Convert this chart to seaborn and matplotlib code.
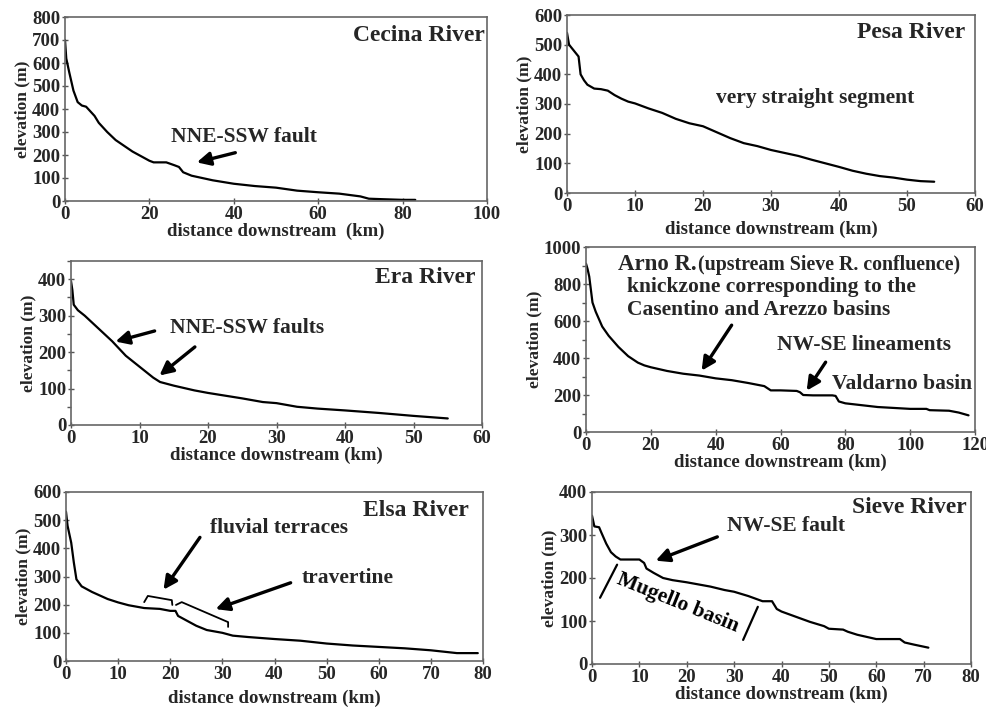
import numpy as np
import pandas as pd
import seaborn as sns
import matplotlib.pyplot as plt
from matplotlib.ticker import MultipleLocator

# ############### River profile data ###############
cecina_km = [0, 0.3, 1, 2, 3, 4, 5, 6, 7, 8, 10, 12, 14, 16, 18, 20, 21, 24, 26, 27, 28, 30,
             35, 40, 45, 50, 55, 60, 65, 70, 72, 75, 80, 83]
cecina_m = [700, 620, 560, 480, 430, 415, 410, 390, 370, 340, 300, 265, 240, 215, 195, 175, 168,
            168, 155, 148, 125, 110, 90, 75, 65, 58, 45, 38, 32, 20, 10, 8, 5, 5]

pesa_km = [0, 0.3, 1, 1.7, 2, 2.5, 3, 4, 5, 6, 7, 8, 9, 10, 12, 14, 16, 18, 20, 22, 24, 26, 28,
           30, 32, 34, 36, 38, 40, 42, 44, 46, 48, 50, 52, 54]
pesa_m = [540, 500, 480, 460, 400, 380, 365, 352, 350, 345, 330, 318, 308, 302, 285, 270, 250,
          235, 225, 205, 185, 168, 158, 145, 135, 125, 112, 100, 88, 75, 65, 57, 52, 45, 40, 38]

era_km = [0, 0.2, 0.4, 1, 2, 4, 6, 8, 10, 12, 13, 15, 18, 20, 25, 28, 30, 33, 36, 40, 45, 50, 55]
era_m = [395, 370, 330, 315, 300, 265, 230, 190, 160, 130, 118, 108, 95, 88, 73, 63, 60, 50, 45,
         40, 33, 25, 18]

arno_km = [0, 0.5, 1, 2, 3, 5, 7, 10, 13, 16, 18, 20, 25, 30, 35, 40, 45, 50, 55, 57, 60, 65, 66,
           67, 70, 76, 77, 78, 80, 85, 90, 95, 100, 105, 106, 112, 115, 118]
arno_m = [910, 880, 840, 700, 650, 570, 520, 460, 410, 375, 360, 350, 330, 315, 305, 290, 280,
          265, 248, 225, 225, 222, 215, 200, 198, 198, 195, 165, 155, 145, 135, 130, 125, 125, 118,
          115, 105, 90]

elsa_km = [0, 0.3, 1, 1.5, 2, 3, 5, 8, 10, 12, 15, 18, 20, 21, 21.5, 23, 25, 27, 30, 32, 35, 40,
           45, 50, 55, 60, 65, 70, 75, 79]
elsa_m = [530, 480, 420, 350, 290, 265, 245, 220, 208, 198, 188, 185, 178, 178, 160, 145, 125,
          110, 100, 90, 85, 78, 72, 62, 55, 50, 45, 38, 28, 28]

sieve_km = [0, 0.5, 1.5, 2, 3, 4, 5, 6, 7, 10, 11, 11.5, 13, 15, 17, 20, 25, 28, 30, 33, 35, 36,
            38, 39, 40, 43, 46, 49, 50, 53, 54, 56, 58, 60, 65, 66, 68, 71]
sieve_m = [345, 320, 318, 305, 280, 260, 250, 243, 243, 243, 235, 222, 212, 200, 195, 190, 180,
           172, 168, 158, 150, 146, 146, 128, 122, 110, 98, 88, 82, 80, 75, 68, 63, 58, 58, 50,
           45, 38]

# Elsa brackets (terraces / travertine)
terrace_km = [15, 15.7, 20.3, 20.4]
terrace_m = [209, 231, 216, 199]
travertine_km = [21.1, 22.2, 31.1, 31.1]
travertine_m = [199, 209, 138, 121]

# ############### Figure ###############
sns.set_theme(style="white")
plt.rcParams['font.family'] = ['Liberation Serif', 'DejaVu Serif']
plt.rcParams['font.weight'] = 'bold'
plt.rcParams['axes.labelweight'] = 'bold'

W, H = 986, 709
fig = plt.figure(figsize=(W / 100, H / 100), dpi=100)

ANN = 15.5  # annotation font size


def make_ax(l, t, r, b):
    return fig.add_axes([l / W, 1 - b / H, (r - l) / W, (b - t) / H])


def style(ax, xlim, xstep, ylim, ystep, yminor=None, xpad=2, xlab="distance downstream (km)"):
    ax.set_xlim(*xlim)
    ax.set_ylim(*ylim)
    ax.xaxis.set_major_locator(MultipleLocator(xstep))
    ax.yaxis.set_major_locator(MultipleLocator(ystep))
    if yminor:
        ax.yaxis.set_minor_locator(MultipleLocator(yminor))
    ax.tick_params(which='major', direction='inout', length=5, width=1, color='#555555',
                   labelsize=13.5, pad=1, left=True, bottom=True)
    ax.tick_params(which='minor', axis='y', direction='out', length=3, width=1,
                   color='#555555', left=True)
    for s in ax.spines.values():
        s.set_color('#666666')
        s.set_linewidth(1.2)
    for lab in ax.get_xticklabels() + ax.get_yticklabels():
        lab.set_fontweight('bold')
    ax.set_xlabel(xlab, fontsize=13.5, labelpad=xpad)
    ax.set_ylabel("elevation (m)", fontsize=12.5, labelpad=1)


def profile(ax, km, m):
    sns.lineplot(x=km, y=m, ax=ax, color='black', lw=1.6, estimator=None, sort=False)


def title(ax, txt, x, y, size=17):
    ax.text(x, y, txt, transform=ax.transAxes, ha='right', va='center', fontsize=size,
            fontweight='bold')


arrow = dict(arrowstyle='-|>', color='black', lw=2.4, mutation_scale=20)

# Cecina
ax1 = make_ax(65, 17, 487, 201)
profile(ax1, cecina_km, cecina_m)
style(ax1, (0, 100), 20, (0, 800), 100, xpad=0, xlab="distance downstream  (km)")
title(ax1, "Cecina River", 0.995, 0.90)
ax1.text(42.4, 278, "NNE-SSW fault", ha='center', va='center', fontsize=ANN, fontweight='bold')
ax1.annotate("", xy=(30.6, 165), xytext=(41, 213), arrowprops=arrow)

# Pesa
ax2 = make_ax(567, 15, 975, 193)
profile(ax2, pesa_km, pesa_m)
style(ax2, (0, 60), 10, (0, 600), 100, xpad=4)
title(ax2, "Pesa River", 0.975, 0.90)
ax2.text(36.5, 320, "very straight segment", ha='center', va='center', fontsize=ANN,
         fontweight='bold')

# Era
ax3 = make_ax(71, 261, 482, 425)
profile(ax3, era_km, era_m)
style(ax3, (0, 60), 10, (0, 450), 100, yminor=50, xpad=0)
title(ax3, "Era River", 0.985, 0.90)
ax3.text(25.7, 266, "NNE-SSW faults", ha='center', va='center', fontsize=ANN, fontweight='bold')
ax3.annotate("", xy=(6.1, 227), xytext=(12.6, 260), arrowprops=arrow)
ax3.annotate("", xy=(12.6, 131), xytext=(18.4, 219), arrowprops=arrow)

# Arno
ax4 = make_ax(586, 247, 975, 432)
profile(ax4, arno_km, arno_m)
style(ax4, (0, 120), 20, (0, 1000), 200, yminor=100, xpad=0)
ax4.text(9.9, 903, "Arno R.", ha='left', va='center', fontsize=16.5, fontweight='bold')
ax4.text(34.4, 903, "(upstream Sieve R. confluence)", ha='left', va='center', fontsize=14.3,
         fontweight='bold')
ax4.text(12.6, 785, "knickzone corresponding to the", ha='left', va='center', fontsize=ANN,
         fontweight='bold')
ax4.text(12.6, 660, "Casentino and Arezzo basins", ha='left', va='center', fontsize=ANN,
         fontweight='bold')
ax4.annotate("", xy=(35.2, 319), xytext=(45.4, 590), arrowprops=arrow)
ax4.text(59, 470, "NW-SE lineaments", ha='left', va='center', fontsize=ANN, fontweight='bold')
ax4.annotate("", xy=(67.6, 211), xytext=(74.4, 390), arrowprops=arrow)
ax4.text(76, 260, "Valdarno basin", ha='left', va='center', fontsize=ANN, fontweight='bold')

# Elsa
ax5 = make_ax(66, 492, 483, 661)
profile(ax5, elsa_km, elsa_m)
sns.lineplot(x=terrace_km, y=terrace_m, ax=ax5, color='black', lw=1.3, estimator=None, sort=False)
sns.lineplot(x=travertine_km, y=travertine_m, ax=ax5, color='black', lw=1.3, estimator=None,
             sort=False)
style(ax5, (0, 80), 10, (0, 600), 100, xpad=5)
title(ax5, "Elsa River", 0.967, 0.89)
ax5.text(27.6, 472, "fluvial terraces", ha='left', va='center', fontsize=ANN, fontweight='bold')
ax5.annotate("", xy=(18.4, 245), xytext=(26, 447), arrowprops=arrow)
ax5.text(45.3, 295, "travertine", ha='left', va='center', fontsize=ANN, fontweight='bold')
ax5.annotate("", xy=(28.2, 181), xytext=(43.6, 281), arrowprops=arrow)

# Sieve
ax6 = make_ax(592, 492, 971, 664)
profile(ax6, sieve_km, sieve_m)
style(ax6, (0, 80), 10, (0, 400), 100, xpad=0)
title(ax6, "Sieve River", 0.99, 0.91)
ax6.text(41, 320, "NW-SE fault", ha='center', va='center', fontsize=ANN, fontweight='bold')
ax6.annotate("", xy=(12.9, 238), xytext=(27, 298), arrowprops=arrow)
ax6.text(18.1, 142, "Mugello basin", ha='center', va='center', fontsize=ANN, fontweight='bold',
         color='black', rotation=-22, rotation_mode='anchor')
ax6.plot([5.3, 1.7], [231, 154], color='black', lw=1.6)
ax6.plot([35, 31.9], [133, 56], color='black', lw=1.6)

fig.savefig("out.png", dpi=100)
